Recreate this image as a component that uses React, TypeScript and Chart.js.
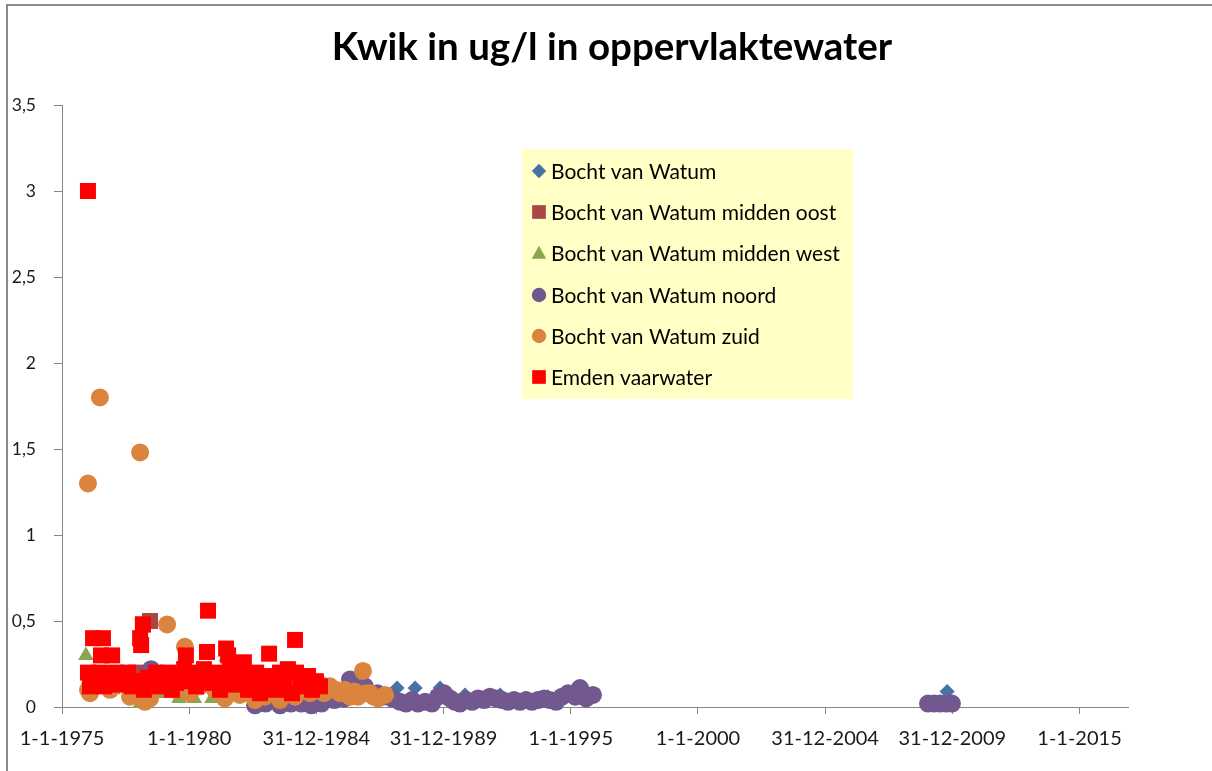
import React, { useEffect, useRef } from "react";
import { Chart, registerables } from "chart.js";

Chart.register(...registerables);

const chartTitle = "Kwik in ug/l in oppervlaktewater";

const seriesNames = [
  "Bocht van Watum",
  "Bocht van Watum midden oost",
  "Bocht van Watum midden west",
  "Bocht van Watum noord",
  "Bocht van Watum zuid",
  "Emden vaarwater",
];

const xTickLabels = [
  "1-1-1975",
  "1-1-1980",
  "31-12-1984",
  "31-12-1989",
  "1-1-1995",
  "1-1-2000",
  "31-12-2004",
  "31-12-2009",
  "1-1-2015",
];
const xStartYear = 1975;
const xEndYear = 2016.9;
const xTickStepDays = 1826;

const yTickValues = [0, 0.5, 1, 1.5, 2, 2.5, 3, 3.5];

// [decimal year, ug/l]
const bochtVanWatum: [number, number][] = [
  [1985.5, 0.08], [1988.17, 0.11], [1988.88, 0.11], [1989.86, 0.11],
  [1990.84, 0.07], [1991.5, 0.05], [1992.22, 0.07], [1993.2, 0.05],
  [1994.1, 0.06], [2009.5, 0.03], [2009.79, 0.09],
];

const middenOost: [number, number][] = [
  [1977.9, 0.2], [1978.18, 0.48], [1978.46, 0.5], [1979.0, 0.1],
];

const middenWest: [number, number][] = [
  [1975.94, 0.3], [1976.02, 0.1], [1977.0, 0.1], [1977.7, 0.12],
  [1978.07, 0.02], [1978.26, 0.03], [1978.8, 0.08], [1979.6, 0.05],
  [1980.2, 0.05], [1980.9, 0.05], [1981.3, 0.08], [1981.45, 0.29],
];

const noord: [number, number][] = [
  [1978.5, 0.22], [1982.59, 0.01], [1983.0, 0.02], [1983.57, 0.01],
  [1984.0, 0.02], [1984.4, 0.02], [1984.8, 0.01], [1985.2, 0.02],
  [1985.7, 0.04], [1986.1, 0.05], [1986.32, 0.16], [1986.6, 0.09],
  [1986.9, 0.12], [1987.4, 0.08], [1987.6, 0.06], [1987.97, 0.05],
  [1988.29, 0.03], [1988.52, 0.02], [1988.76, 0.04], [1988.99, 0.02],
  [1989.27, 0.03], [1989.54, 0.02], [1989.78, 0.06], [1990.02, 0.08],
  [1990.25, 0.05], [1990.45, 0.03], [1990.64, 0.02], [1990.88, 0.04],
  [1991.12, 0.03], [1991.35, 0.05], [1991.59, 0.04], [1991.82, 0.06],
  [1992.06, 0.05], [1992.3, 0.04], [1992.53, 0.03], [1992.77, 0.04],
  [1993.0, 0.03], [1993.24, 0.04], [1993.47, 0.03], [1993.71, 0.04],
  [1993.95, 0.05], [1994.18, 0.04], [1994.42, 0.03], [1994.65, 0.06],
  [1994.89, 0.08], [1995.17, 0.06], [1995.36, 0.11], [1995.6, 0.05],
  [1995.87, 0.07],
  [2009.04, 0.02], [2009.28, 0.02], [2009.51, 0.02], [2009.75, 0.02], [2009.98, 0.02],
];

const zuid: [number, number][] = [
  [1976.02, 1.3], [1976.49, 1.8], [1978.07, 1.48], [1979.13, 0.48],
  [1979.83, 0.35], [1986.83, 0.21], [1985.53, 0.12],
  [1976.02, 0.1], [1976.1, 0.08], [1976.89, 0.1], [1977.67, 0.06], [1978.26, 0.03],
  [1978.46, 0.05], [1979.44, 0.1], [1979.87, 0.1], [1980.03, 0.08], [1980.42, 0.12],
  [1981.01, 0.1], [1981.4, 0.05], [1981.99, 0.07], [1982.59, 0.04],
  [1982.98, 0.06], [1983.57, 0.04], [1984.16, 0.06], [1984.75, 0.08],
  [1985.14, 0.1], [1985.18, 0.13], [1985.3, 0.08], [1985.75, 0.1], [1985.93, 0.08],
  [1986.12, 0.1], [1986.32, 0.06], [1986.5, 0.09], [1986.64, 0.06],
  [1986.95, 0.08], [1987.11, 0.08], [1987.25, 0.06], [1987.42, 0.05], [1987.7, 0.07],
];

const emden: [number, number][] = [
  [1976.02, 3.0], [1976.22, 0.4], [1976.61, 0.4], [1976.53, 0.3],
  [1976.97, 0.3], [1978.07, 0.4], [1978.18, 0.48], [1978.11, 0.36],
  [1980.74, 0.56], [1979.87, 0.3], [1980.7, 0.32], [1981.45, 0.34],
  [1981.53, 0.3], [1983.14, 0.31], [1984.16, 0.39], [1982.15, 0.26],
  [1976.02, 0.2], [1976.1, 0.12], [1976.3, 0.15], [1976.49, 0.2],
  [1976.65, 0.12], [1976.81, 0.18], [1976.97, 0.15], [1977.12, 0.2],
  [1977.28, 0.13], [1977.44, 0.17], [1977.59, 0.2], [1977.75, 0.12],
  [1977.91, 0.15], [1978.22, 0.1], [1978.38, 0.17], [1978.54, 0.14],
  [1978.69, 0.2], [1978.85, 0.12], [1979.01, 0.16], [1979.17, 0.2],
  [1979.32, 0.1], [1979.48, 0.14], [1979.64, 0.18], [1979.8, 0.22],
  [1979.95, 0.15], [1980.11, 0.2], [1980.27, 0.12], [1980.42, 0.17],
  [1980.58, 0.22], [1980.9, 0.14], [1981.05, 0.2], [1981.21, 0.1],
  [1981.37, 0.18], [1981.6, 0.22], [1981.76, 0.13], [1981.92, 0.17],
  [1982.08, 0.2], [1982.31, 0.1], [1982.47, 0.15], [1982.63, 0.2],
  [1982.78, 0.08], [1982.94, 0.12], [1983.1, 0.18], [1983.25, 0.15],
  [1983.41, 0.1], [1983.57, 0.2], [1983.73, 0.13], [1983.88, 0.22],
  [1984.04, 0.08], [1984.2, 0.2], [1984.36, 0.15], [1984.51, 0.12],
  [1984.67, 0.18], [1984.83, 0.1], [1984.98, 0.15], [1985.14, 0.12],
];

const seriesData = [bochtVanWatum, middenOost, middenWest, noord, zuid, emden];
const seriesColors = ["#4572A7", "#AA4643", "#89A54E", "#71588F", "#DB843D", "#FF0000"];
const seriesStyles = ["rectRot", "rect", "triangle", "circle", "circle", "rect"];
const seriesRadius = [7.5, 11.3, 9, 9, 9, 11.3];

const FONT = "Lato, 'Open Sans', sans-serif";

const drawMarker = (ctx: CanvasRenderingContext2D, style: string, x: number, y: number, s: number) => {
  ctx.beginPath();
  if (style === "rectRot") {
    ctx.moveTo(x, y - s);
    ctx.lineTo(x + s, y);
    ctx.lineTo(x, y + s);
    ctx.lineTo(x - s, y);
    ctx.closePath();
  } else if (style === "rect") {
    ctx.rect(x - s * 0.95, y - s * 0.95, s * 1.9, s * 1.9);
  } else if (style === "triangle") {
    ctx.moveTo(x, y - s);
    ctx.lineTo(x + s, y + s * 0.8);
    ctx.lineTo(x - s, y + s * 0.8);
    ctx.closePath();
  } else {
    ctx.arc(x, y, s, 0, Math.PI * 2);
  }
  ctx.fill();
};

const titlePlugin = {
  id: "customTitle",
  afterDraw(chart: any) {
    const ctx = chart.ctx as CanvasRenderingContext2D;
    ctx.save();
    ctx.fillStyle = "#000";
    ctx.font = `bold 38.5px ${FONT}`;
    ctx.textAlign = "center";
    ctx.textBaseline = "middle";
    ctx.fillText(chartTitle, 612, 48);
    ctx.restore();
  },
};

const legendPlugin = {
  id: "boxLegend",
  afterDraw(chart: any) {
    const ctx = chart.ctx as CanvasRenderingContext2D;
    ctx.save();
    ctx.fillStyle = "#FFFFC6";
    ctx.fillRect(522, 149, 331, 250);
    const rowY = [171, 212, 253, 295, 336, 377];
    seriesNames.forEach((name, i) => {
      ctx.fillStyle = seriesColors[i];
      drawMarker(ctx, seriesStyles[i], 539, rowY[i], 7.2);
      ctx.fillStyle = "#000";
      ctx.font = `21px ${FONT}`;
      ctx.textAlign = "left";
      ctx.textBaseline = "middle";
      ctx.fillText(name, 551, rowY[i] + 1);
    });
    ctx.restore();
  },
};

export default function App() {
  const canvasRef = useRef<HTMLCanvasElement>(null);

  useEffect(() => {
    if (!canvasRef.current) return;
    const datasets = seriesNames.map((name, i) => ({
      label: name,
      data: seriesData[i].map(([x, y]) => ({ x, y })),
      backgroundColor: seriesColors[i],
      borderColor: seriesColors[i],
      pointStyle: seriesStyles[i],
      pointRadius: seriesRadius[i],
      pointBorderWidth: 0,
      showLine: false,
      clip: false as any,
      order: seriesNames.length - i,
    }));
    const chart = new Chart(canvasRef.current, {
      type: "scatter",
      data: { datasets },
      options: {
        responsive: false,
        animation: false,
        layout: { padding: { top: 105, right: 84, left: 0, bottom: 0 } },
        plugins: {
          legend: { display: false },
          title: { display: false },
          tooltip: { enabled: false },
        },
        scales: {
          x: {
            type: "linear",
            min: xStartYear,
            max: xEndYear,
            afterBuildTicks: (scale: any) => {
              scale.ticks = xTickLabels.map((_, i) => ({
                value: xStartYear + (i * xTickStepDays) / 365.25,
              }));
            },
            afterFit: (scale: any) => {
              scale.height = 64;
            },
            ticks: {
              autoSkip: false,
              maxRotation: 0,
              minRotation: 0,
              color: "#1a1a1a",
              font: { family: FONT, size: 20 },
              padding: 13,
              callback: (_v: any, index: number) => xTickLabels[index],
            },
            grid: {
              display: true,
              drawOnChartArea: false,
              drawTicks: true,
              tickLength: 7,
              color: "#868686",
            },
            border: { display: true, color: "#868686", width: 1 },
          },
          y: {
            type: "linear",
            min: 0,
            max: 3.5,
            afterBuildTicks: (scale: any) => {
              scale.ticks = yTickValues.map((v) => ({ value: v }));
            },
            afterFit: (scale: any) => {
              scale.width = 62;
            },
            ticks: {
              color: "#1a1a1a",
              font: { family: FONT, size: 17.5 },
              padding: 18,
              callback: (v: any) => String(v).replace(".", ","),
            },
            grid: {
              display: true,
              drawOnChartArea: false,
              drawTicks: true,
              tickLength: 8,
              color: "#868686",
            },
            border: { display: true, color: "#868686", width: 1 },
          },
        },
      },
      plugins: [titlePlugin, legendPlugin],
    });
    return () => chart.destroy();
  }, []);

  return (
    <div style={{ position: "absolute", left: 0, top: 0, width: 1212, height: 771, background: "#fff", overflow: "hidden" }}>
      <div
        style={{
          position: "absolute",
          left: 6,
          top: 4,
          width: 1220,
          height: 780,
          borderLeft: "2px solid #8a8a8a",
          borderTop: "2px solid #8a8a8a",
          boxSizing: "border-box",
        }}
      />
      <canvas ref={canvasRef} width={1212} height={771} style={{ position: "absolute", left: 0, top: 0 }} />
    </div>
  );
}
